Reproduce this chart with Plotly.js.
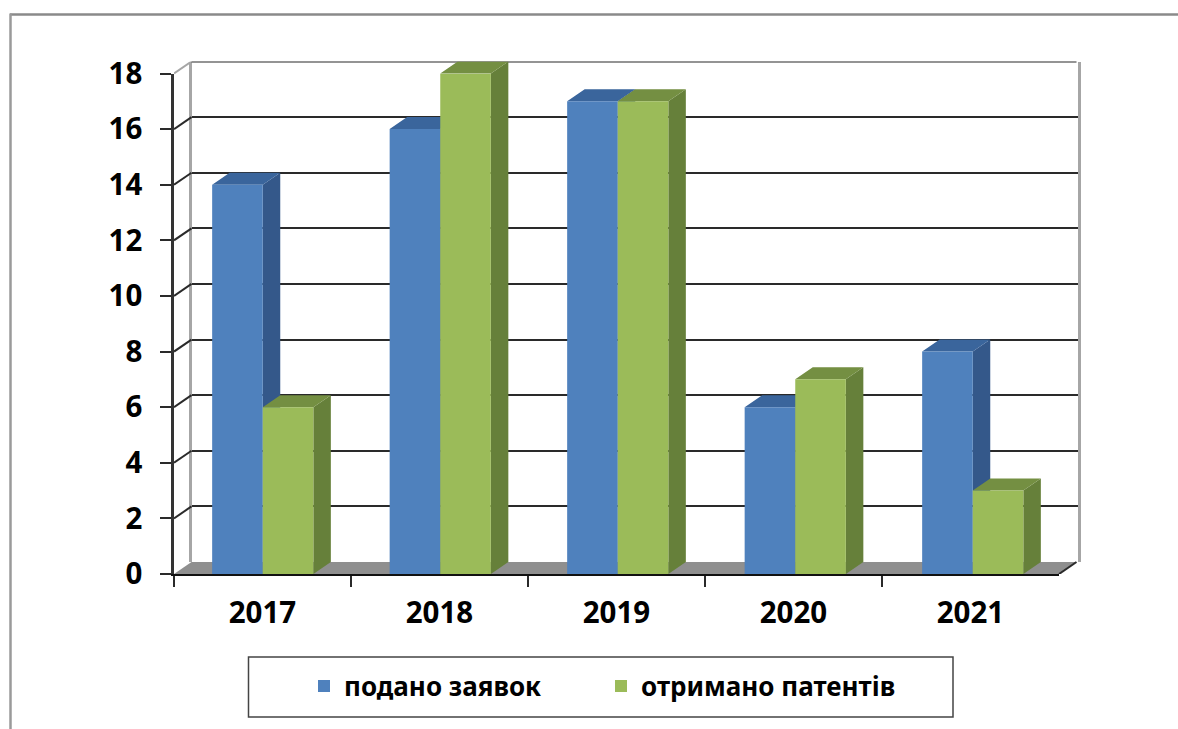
<!DOCTYPE html>
<html>
<head>
<meta charset="utf-8">
<script src="https://cdn.plot.ly/plotly-3.0.1.min.js"></script>
<style>html,body{margin:0;padding:0;background:#fff}</style>
</head>
<body>
<div id="chart" style="width:1178px;height:729px"></div>
<script>
const categories = ['2017', '2018', '2019', '2020', '2021'];
const seriesNames = ['подано заявок', 'отримано патентів'];
const filed = [14, 16, 17, 6, 8];
const granted = [6, 18, 17, 7, 3];
const yTicks = [0, 2, 4, 6, 8, 10, 12, 14, 16, 18];

const W = 1178, H = 729;
const FONT = '"Noto Sans", "Open Sans", sans-serif';
const left = 174, right = 1059, barsRight = 1061.5, base = 574, top18 = 73.5;
const catPx = (barsRight - left) / categories.length;
const valPx = (base - top18) / 18;
const depthPxX = 17.5, depthPxY = 12;
const dX = depthPxX / catPx, dY = depthPxY / valPx;
const barW = 0.285;
const fx = p => p / W, fy = p => 1 - p / H;

function polys(list) {
  const x = [], y = [];
  list.forEach(p => { p.forEach(c => { x.push(c[0]); y.push(c[1]); }); x.push(p[0][0]); y.push(p[0][1]); x.push(null); y.push(null); });
  return {x, y};
}
function fillTrace(list, color) {
  const p = polys(list);
  return {type:'scatter', mode:'lines', x:p.x, y:p.y, fill:'toself', fillcolor:color, line:{width:0, color:color},
          xaxis:'x2', yaxis:'y2', showlegend:false, hoverinfo:'skip', cliponaxis:false};
}
function lineTrace(list, color, width) {
  const x = [], y = [];
  list.forEach(s => { x.push(s[0][0], s[1][0], null); y.push(s[0][1], s[1][1], null); });
  return {type:'scatter', mode:'lines', x, y, line:{color, width}, xaxis:'x2', yaxis:'y2', showlegend:false, hoverinfo:'skip', cliponaxis:false};
}
function sideFaces(vals, start) {
  return vals.map((v, i) => { const r = i + start + barW; return [[r,0],[r+dX,dY],[r+dX,v+dY],[r,v]]; });
}
function topFaces(vals, start) {
  return vals.map((v, i) => { const l = i + start, r = l + barW; return [[l,v],[l+dX,v+dY],[r+dX,v+dY],[r,v]]; });
}

const x0 = -0.5, x1 = categories.length - 0.5;
const floorEnd = x0 + (right - left) / catPx;
const data = [
  {type:'scatter', mode:'lines', x:[0,1], y:[0,18], line:{width:0}, xaxis:'x', yaxis:'y', showlegend:false, hoverinfo:'skip', opacity:0},
  fillTrace([[[x0,0],[floorEnd,0],[floorEnd+dX,dY],[x0+dX,dY]]], '#8f8f8f'),
  lineTrace(yTicks.filter(t => t > 0 && t < 18).map(t => [[x0,t],[x0+dX,t+dY]]), '#2a2a2a', 2),
  lineTrace([[[x0,18],[x0+dX,18+dY]]], '#a6a6a6', 2),
  lineTrace([[[x0+dX,18+dY],[floorEnd+dX,18+dY]]], '#2a2a2a', 2),
  lineTrace([[[floorEnd,0],[floorEnd+dX,dY]]], '#2a2a2a', 2),
  fillTrace(sideFaces(filed, -barW), '#34588a'),
  fillTrace(topFaces(filed, -barW), '#3a659c'),
  fillTrace(sideFaces(granted, 0), '#66803a'),
  fillTrace(topFaces(granted, 0), '#748f42'),
  {type:'bar', name:seriesNames[0], x:categories, y:filed, marker:{color:'#4f81bd'}, xaxis:'x3', yaxis:'y3'},
  {type:'bar', name:seriesNames[1], x:categories, y:granted, marker:{color:'#9bbb59'}, xaxis:'x3', yaxis:'y3'},
  {type:'scatter', mode:'lines', x:categories, y:yTicks.slice(0, categories.length), line:{width:0}, opacity:0, xaxis:'x4', yaxis:'y3', showlegend:false, hoverinfo:'skip'}
];

const tickFont = {family:FONT, size:29.5, color:'#000', weight:700};
const layout = {
  width:W, height:H, margin:{l:0,r:0,t:0,b:0}, paper_bgcolor:'#fff', plot_bgcolor:'rgba(0,0,0,0)',
  barmode:'group', bargap:0.43, bargroupgap:0, hovermode:false,
  // back wall
  xaxis:{domain:[fx(left+depthPxX), fx(right+depthPxX+1)], range:[0,1], showgrid:false, zeroline:false, showticklabels:false, ticks:'', showline:false, anchor:'y'},
  yaxis:{domain:[fy(base-depthPxY), fy(top18-depthPxY)], range:[0,18], tickvals:yTicks, showgrid:true, gridcolor:'#2a2a2a', gridwidth:2,
         zeroline:false, showticklabels:false, ticks:'', showline:true, linecolor:'#a6a6a6', linewidth:3, mirror:true, anchor:'x'},
  // depth faces
  xaxis2:{domain:[fx(left), fx(barsRight+depthPxX)], range:[x0, x1+dX], visible:false, anchor:'y2'},
  yaxis2:{domain:[fy(base), fy(top18-depthPxY)], range:[0, 18+dY], visible:false, anchor:'x2'},
  // bars on the front plane
  xaxis3:{domain:[fx(left), fx(barsRight)], type:'category', categoryorder:'array', categoryarray:categories, range:[x0,x1], visible:false, anchor:'y3'},
  yaxis3:{domain:[fy(base), fy(top18)], range:[0,18], tickmode:'array', tickvals:yTicks, ticktext:yTicks.map(String), ticks:'outside', ticklen:11, tickwidth:1.5,
          tickcolor:'#2a2a2a', showline:true, linecolor:'#333', linewidth:2.5, showgrid:false, zeroline:false, tickfont:tickFont, ticklabelstandoff:12, anchor:'x4'},
  // visible category axis
  xaxis4:{domain:[fx(left), fx(right)], type:'category', categoryorder:'array', categoryarray:categories, range:[x0,x1], tickson:'boundaries',
          ticks:'outside', ticklen:11, tickwidth:1.5, tickcolor:'#2a2a2a', showline:true, linecolor:'#111', linewidth:2,
          showgrid:false, zeroline:false, tickfont:tickFont, ticklabelstandoff:12, anchor:'y3'},
  showlegend:true,
  legend:{orientation:'h', x:fx(304), y:fy(686), xanchor:'left', yanchor:'middle', bgcolor:'rgba(0,0,0,0)', borderwidth:0,
          font:{family:FONT, size:26, color:'#000', weight:700}, entrywidth:252, entrywidthmode:'pixels', itemclick:false, itemdoubleclick:false},
  shapes:[
    {type:'line', xref:'paper', yref:'paper', x0:fx(10), x1:1, y0:fy(14.5), y1:fy(14.5), line:{color:'#8a8a8a', width:2.5}},
    {type:'line', xref:'paper', yref:'paper', x0:fx(10.5), x1:fx(10.5), y0:fy(13.5), y1:0, line:{color:'#9a9a9a', width:2.5}},
    {type:'rect', xref:'paper', yref:'paper', x0:fx(248.5), x1:fx(953), y0:fy(657), y1:fy(717), line:{color:'#444', width:1.5}, fillcolor:'rgba(0,0,0,0)'}
  ]
};
Plotly.newPlot('chart', data, layout, {displayModeBar:false});
</script>
</body>
</html>
